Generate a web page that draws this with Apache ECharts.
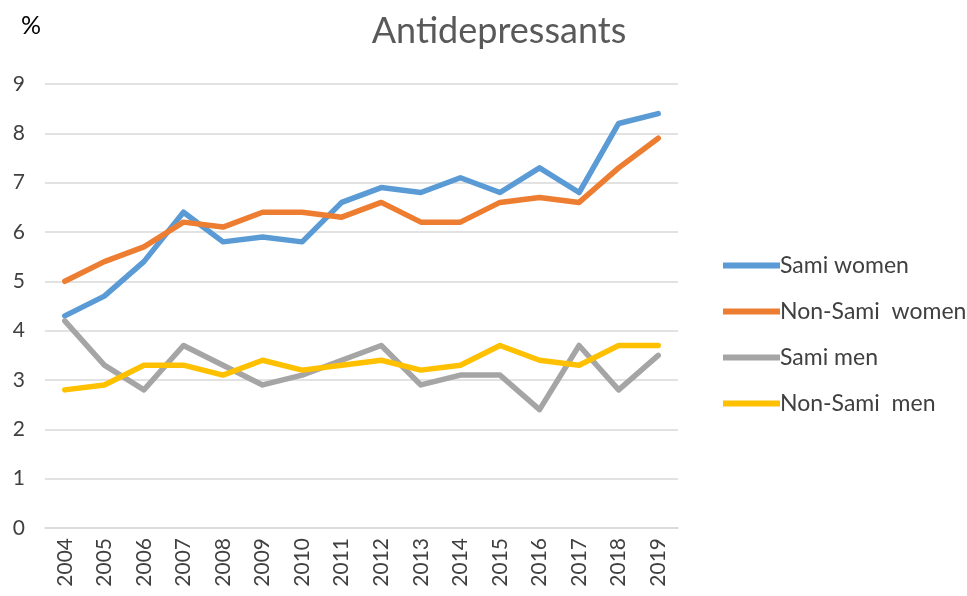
<!DOCTYPE html>
<html>
<head>
<meta charset="utf-8">
<script src="https://cdn.jsdelivr.net/npm/echarts@6/dist/echarts.min.js"></script>
<style>
  html, body { margin: 0; padding: 0; background: #fff; }
  #chart { width: 967px; height: 596px; }
</style>
</head>
<body>
<div id="chart"></div>
<script>
// Antidepressant use (%) by year, Sami and non-Sami populations
const years = ['2004','2005','2006','2007','2008','2009','2010','2011','2012','2013','2014','2015','2016','2017','2018','2019'];
const samiWomen    = [4.3, 4.7, 5.4, 6.4, 5.8, 5.9, 5.8, 6.6, 6.9, 6.8, 7.1, 6.8, 7.3, 6.8, 8.2, 8.4];
const nonSamiWomen = [5.0, 5.4, 5.7, 6.2, 6.1, 6.4, 6.4, 6.3, 6.6, 6.2, 6.2, 6.6, 6.7, 6.6, 7.3, 7.9];
const samiMen      = [4.2, 3.3, 2.8, 3.7, 3.3, 2.9, 3.1, 3.4, 3.7, 2.9, 3.1, 3.1, 2.4, 3.7, 2.8, 3.5];
const nonSamiMen   = [2.8, 2.9, 3.3, 3.3, 3.1, 3.4, 3.2, 3.3, 3.4, 3.2, 3.3, 3.7, 3.4, 3.3, 3.7, 3.7];
const yTicks = [0, 1, 2, 3, 4, 5, 6, 7, 8, 9];

const font = 'Lato, "Open Sans", sans-serif';
const seriesDefs = [
  { name: 'Sami women',       data: samiWomen,    color: '#5B9BD5' },
  { name: 'Non-Sami  women',  data: nonSamiWomen, color: '#ED7D31' },
  { name: 'Sami men',         data: samiMen,      color: '#A5A5A5' },
  { name: 'Non-Sami  men',    data: nonSamiMen,   color: '#FFC000' }
];

const chart = echarts.init(document.getElementById('chart'), null, { renderer: 'canvas' });
chart.setOption({
  animation: false,
  backgroundColor: '#fff',
  title: [
    { text: 'Antidepressants', left: 494, top: 8, textAlign: 'center',
      textStyle: { fontFamily: font, fontSize: 36, fontWeight: 'normal', color: '#595959' } },
    { text: '%', left: 16, top: 8,
      textStyle: { fontFamily: font, fontSize: 25, fontWeight: 'normal', color: '#000' } }
  ],
  grid: { left: 45, right: 289, top: 84, bottom: 68, containLabel: false },
  legend: {
    orient: 'vertical', left: 718, top: 249,
    itemWidth: 57, itemHeight: 6, itemGap: 23,
    icon: 'rect',
    textStyle: { fontFamily: font, fontSize: 23, color: '#404040', padding: [0, 0, 0, -5] },
    data: seriesDefs.map(s => s.name)
  },
  xAxis: {
    type: 'category', data: years, boundaryGap: true,
    axisLine: { lineStyle: { color: '#D9D9D9', width: 1.5 } },
    axisTick: { show: false },
    axisLabel: { rotate: 90, fontFamily: font, fontSize: 21, color: '#404040', margin: 10 }
  },
  yAxis: {
    type: 'value', min: yTicks[0], max: yTicks[yTicks.length - 1], interval: 1,
    axisLine: { show: false }, axisTick: { show: false },
    splitLine: { lineStyle: { color: '#D9D9D9', width: 1.5 } },
    axisLabel: { fontFamily: font, fontSize: 21, color: '#404040', margin: 20 }
  },
  series: seriesDefs.map(s => ({
    name: s.name, type: 'line', data: s.data, symbol: 'none',
    lineStyle: { color: s.color, width: 5.5, join: 'round', cap: 'round' },
    itemStyle: { color: s.color }
  }))
});
</script>
</body>
</html>
